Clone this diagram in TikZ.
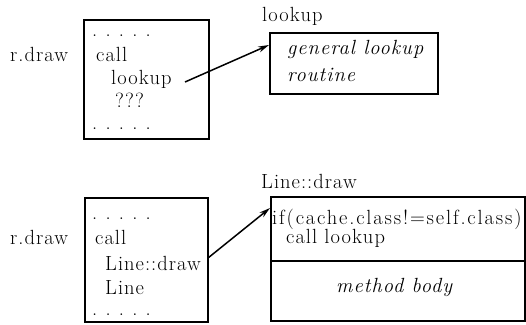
\documentclass[tikz,border=0pt]{standalone}
\usepackage{fontspec}
\setmainfont{Latin Modern Roman}[LetterSpace=5]
\usetikzlibrary{arrows.meta}
\begin{document}
\begin{tikzpicture}[x=1pt,y=-1pt,
  txt/.style={anchor=base west,inner sep=0pt,font=\fontsize{20.5}{24}\selectfont},
  itx/.style={txt,font=\fontsize{20.5}{24}\selectfont\itshape},
  widetxt/.style={txt,font=\fontsize{20.5}{24}\selectfont\addfontfeatures{LetterSpace=9}},
  dotrow/.style={txt,font=\fontsize{20.5}{24}\selectfont\addfontfeatures{LetterSpace=0}},
  frame/.style={draw,line width=1.2pt},
  ptr/.style={line width=1.5pt,-{Stealth[length=11pt,width=6pt]}}]
\useasboundingbox (0,0) rectangle (526,324);

% upper frame and the general lookup routine
\node[txt] (rd1) at (10,61) {r.draw};
\draw[frame] (84,20) rectangle (209,139);
\node[dotrow] (d1) at (92,36) {. . . . .};
\node[txt] (c1) at (96,61) {call};
\node[txt] (lk1) at (111,84) {lookup};
\node[txt] (q1) at (115,107) {???};
\node[dotrow] (d2) at (92,129) {. . . . .};

\node[txt] (lkl) at (262,21) {lookup};
\draw[frame] (270,33) rectangle (438,94);
\node[itx] (g1) at (287,54) {general lookup};
\node[itx] (g2) at (287,81) {routine};

\coordinate (t1) at (185,82);
\coordinate (h1) at (269,45);
\draw[ptr] (t1) -- (h1);

% lower frame and the Line::draw method
\node[txt] (rd2) at (10,244) {r.draw};
\draw[frame] (85,198) rectangle (208,322);
\node[dotrow] (d3) at (92,219) {. . . . .};
\node[txt] (c2) at (95,244) {call};
\node[txt] (ld) at (105,270) {Line::draw};
\node[txt] (ln) at (105,294) {Line};
\node[dotrow] (d4) at (92,315) {. . . . .};

\node[txt] (ldl) at (261,188) {Line::draw};
\draw[frame] (271,197) rectangle (525,321);
\draw[frame] (271,261) -- (525,261);
\node[widetxt] (if) at (272,224) {if(cache.class!=self.class)};
\node[txt] (cl) at (286,243) {call lookup};
\node[itx] (mb) at (336,292) {method body};

\coordinate (t2) at (208,258);
\coordinate (h2) at (270,208);
\draw[ptr] (t2) -- (h2);
\end{tikzpicture}
\end{document}
